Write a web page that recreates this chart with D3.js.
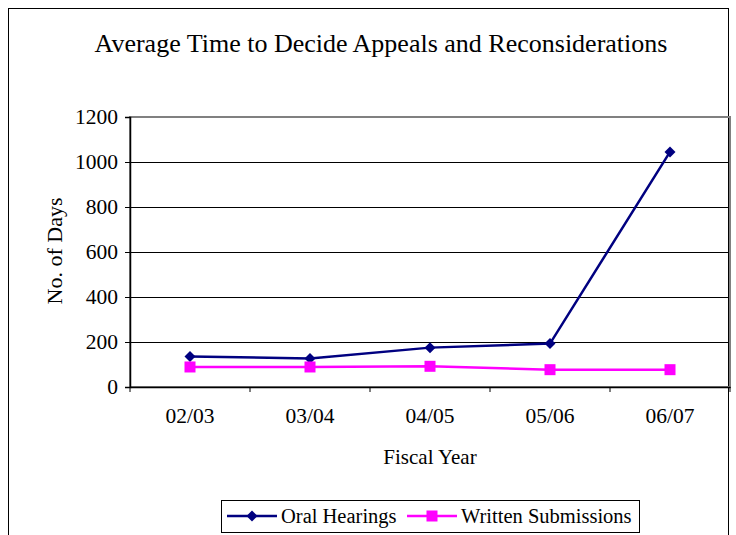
<!DOCTYPE html>
<html>
<head>
<meta charset="utf-8">
<script src="https://cdn.jsdelivr.net/npm/d3@7"></script>
<style>
  body { margin: 0; background: #fff; }
  text { font-family: "Liberation Serif", "DejaVu Serif", serif; fill: #000; }
</style>
</head>
<body>
<svg id="chart"></svg>
<script>
var width = 736,
  height = 535;

var years = ['02/03', '03/04', '04/05', '05/06', '06/07'];
var oralHearings = [136, 127, 175, 193, 1045];
var writtenSubmissions = [89, 89, 92, 77, 77];
var yTicks = [0, 200, 400, 600, 800, 1000, 1200];

var series = [
  { name: 'Oral Hearings', values: oralHearings, color: '#000080', shape: 'diamond' },
  { name: 'Written Submissions', values: writtenSubmissions, color: '#ff00ff', shape: 'square' }
];

var plot = { left: 130, right: 730, top: 117, bottom: 387 };
var serif = '"Liberation Serif", "DejaVu Serif", serif';

var svg = d3.select('#chart')
  .attr('width', width)
  .attr('height', height)
  .attr('font-family', serif);

// outer frame
svg.append('rect')
  .attr('x', 8.5)
  .attr('y', 8.5)
  .attr('width', 720)
  .attr('height', 540)
  .attr('fill', 'none')
  .attr('stroke', '#000');

svg.append('text')
  .attr('x', 381)
  .attr('y', 52)
  .attr('text-anchor', 'middle')
  .style('font-family', serif)
  .style('font-size', '26px')
  .text('Average Time to Decide Appeals and Reconsiderations');

var x = d3.scaleBand()
  .domain(years)
  .range([plot.left, plot.right]);

var y = d3.scaleLinear()
  .domain([0, 1200])
  .range([plot.bottom, plot.top]);

// gridlines
svg.append('g')
  .selectAll('line')
  .data(yTicks.slice(1))
  .enter().append('line')
  .attr('x1', plot.left)
  .attr('x2', plot.right)
  .attr('y1', function(d) { return Math.round(y(d)) + 0.5; })
  .attr('y2', function(d) { return Math.round(y(d)) + 0.5; })
  .attr('stroke', '#000')
  .attr('stroke-width', 1);

// plot border
svg.append('rect')
  .attr('x', plot.left)
  .attr('y', plot.top)
  .attr('width', plot.right - plot.left)
  .attr('height', plot.bottom - plot.top)
  .attr('fill', 'none')
  .attr('stroke', '#808080')
  .attr('stroke-width', 2);

// y axis
var yAxis = svg.append('g')
  .attr('transform', 'translate(' + plot.left + ',0)')
  .call(d3.axisLeft(y).tickValues(yTicks).tickFormat(d3.format('d')).tickSize(5).tickPadding(7));
yAxis.select('.domain').attr('stroke', '#000').attr('stroke-width', 1.5);
yAxis.selectAll('.tick line').attr('stroke', '#000');
yAxis.selectAll('text')
  .style('font-size', '21.5px')
  .style('font-family', serif);

// x axis
var xAxis = svg.append('g')
  .attr('transform', 'translate(0,' + plot.bottom + ')')
  .call(d3.axisBottom(x).tickSize(0).tickPadding(21));
xAxis.select('.domain').attr('stroke', '#000').attr('stroke-width', 1.5);
xAxis.selectAll('text')
  .style('font-size', '21.5px')
  .style('font-family', serif);

// x boundary ticks
svg.append('g')
  .selectAll('line')
  .data(years.concat(['end']))
  .enter().append('line')
  .attr('x1', function(d, i) { return plot.left + i * x.step(); })
  .attr('x2', function(d, i) { return plot.left + i * x.step(); })
  .attr('y1', plot.bottom)
  .attr('y2', plot.bottom + 5)
  .attr('stroke', '#000');

svg.append('text')
  .attr('x', 430)
  .attr('y', 464)
  .attr('text-anchor', 'middle')
  .style('font-family', serif)
  .style('font-size', '21px')
  .text('Fiscal Year');

svg.append('text')
  .attr('transform', 'translate(62,251) rotate(-90)')
  .attr('text-anchor', 'middle')
  .style('font-family', serif)
  .style('font-size', '22px')
  .text('No. of Days');

var line = d3.line()
  .x(function(d, i) { return x(years[i]) + x.bandwidth() / 2; })
  .y(function(d) { return y(d); });

function drawMarker(sel, shape, color) {
  if (shape === 'diamond') {
    sel.append('path')
      .attr('d', 'M0,-5.5L5.5,0L0,5.5L-5.5,0Z')
      .attr('fill', color);
  } else {
    sel.append('rect')
      .attr('x', -5.5)
      .attr('y', -5.5)
      .attr('width', 11)
      .attr('height', 11)
      .attr('fill', color);
  }
}

series.forEach(function(s) {
  svg.append('path')
    .datum(s.values)
    .attr('d', line)
    .attr('fill', 'none')
    .attr('stroke', s.color)
    .attr('stroke-width', 2.5);

  svg.append('g')
    .selectAll('g')
    .data(s.values)
    .enter().append('g')
    .attr('transform', function(d, i) {
      return 'translate(' + (x(years[i]) + x.bandwidth() / 2) + ',' + y(d) + ')';
    })
    .each(function() { drawMarker(d3.select(this), s.shape, s.color); });
});

// legend
var legend = svg.append('g');
legend.append('rect')
  .attr('x', 221.5)
  .attr('y', 500.5)
  .attr('width', 418)
  .attr('height', 32)
  .attr('fill', '#fff')
  .attr('stroke', '#000');

var legendX = [227, 407];
series.forEach(function(s, i) {
  var g = legend.append('g').attr('transform', 'translate(' + legendX[i] + ',516)');
  g.append('line')
    .attr('x1', 0)
    .attr('x2', 50)
    .attr('stroke', s.color)
    .attr('stroke-width', 2.5);
  var m = g.append('g').attr('transform', 'translate(25,0)');
  drawMarker(m, s.shape, s.color);
  g.append('text')
    .attr('x', 54)
    .attr('y', 6.5)
    .style('font-family', serif)
    .style('font-size', '20.5px')
    .text(s.name);
});
</script>
</body>
</html>
